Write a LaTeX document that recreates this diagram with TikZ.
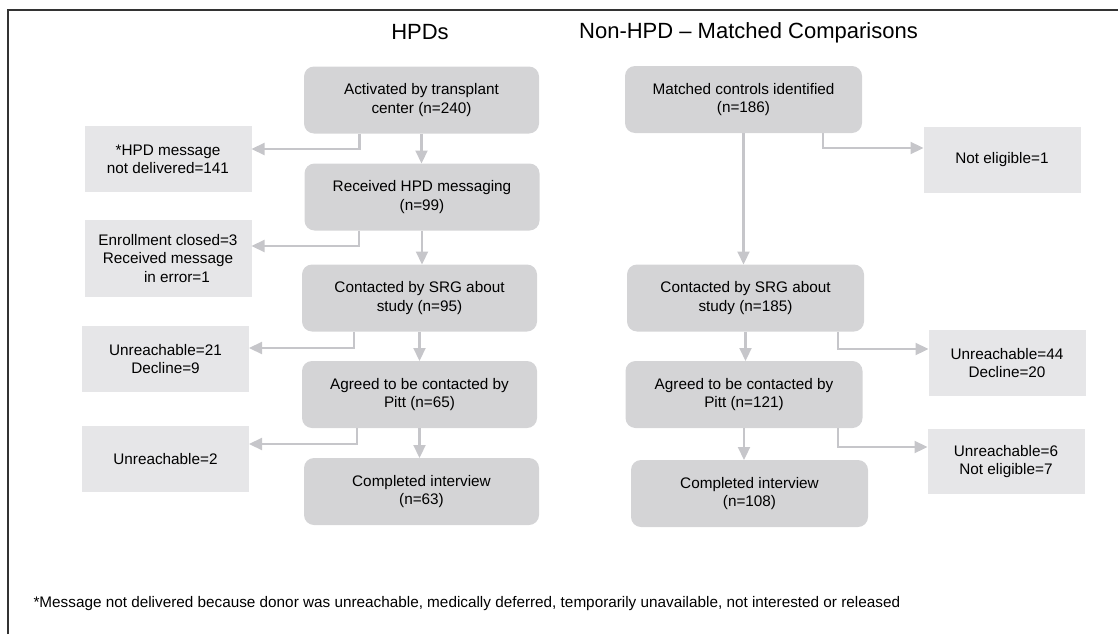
\documentclass[tikz,border=0pt]{standalone}
\usepackage{fontspec}
\setmainfont{Liberation Sans}
\usepackage{xcolor}
\usepackage{tikz}
\usetikzlibrary{arrows.meta}
\usetikzlibrary{shapes}

\definecolor{boxgray}{HTML}{D4D4D6}
\definecolor{sidegray}{HTML}{E6E6E8}
\definecolor{arrowgray}{HTML}{C6C6CA}
\definecolor{framegray}{HTML}{333333}

\tikzset{
    mainbox/.style = {rectangle, rounded corners = 10pt, fill = boxgray, inner sep = 0pt, outer sep = 0pt,
        minimum width = 235pt, minimum height = 67pt, align = center,
        font = \fontsize{15.3}{18.3}\selectfont},
    sidebox/.style = {rectangle, fill = sidegray, inner sep = 0pt, outer sep = 0pt,
        minimum width = 167pt, minimum height = 66pt, align = center,
        font = \fontsize{15.3}{18.3}\selectfont},
    flow/.style = {draw = arrowgray, line width = 2.2pt, -{Triangle[length = 13pt, width = 12pt]}},
    heading/.style = {font = \fontsize{22}{26}\selectfont}
}

\begin{document}
\begin{tikzpicture}[x = 1pt, y = -1pt]
        \useasboundingbox (0, 0) rectangle (1118, 634);
        \draw[framegray, line width = 2pt] (8, 634) -- (8, 10) -- (1118, 10);

        \node[heading] (hpdtitle) at (420, 32) {HPDs};
        \node[heading] (nonhpdtitle) at (748.5, 33) {Non-HPD -- Matched Comparisons};

        % HPD column
        \node[mainbox] (activated) at (421.5, 100) {Activated by transplant\\center (n=240)};
        \node[mainbox] (received) at (422, 197) {Received HPD messaging\\(n=99)};
        \node[mainbox] (contacted) at (419.5, 298) {Contacted by SRG about\\study (n=95)};
        \node[mainbox] (agreed) at (419.5, 394.5) {Agreed to be contacted by\\Pitt (n=65)};
        \node[mainbox] (completed) at (421.5, 491.5) {Completed interview\\(n=63)};

        \node[sidebox] (undelivered) at (168, 159) {*HPD message\\not delivered=141};
        \node[sidebox, minimum height = 77pt] (closed) at (168, 258.5) {Enrollment closed=3\\Received message\\\hspace{18pt}in error=1};
        \node[sidebox] (declined) at (165.5, 359) {Unreachable=21\\Decline=9};
        \node[sidebox] (lost) at (165.5, 459) {Unreachable=2};

        % matched comparison column
        \node[mainbox, minimum width = 237pt] (matched) at (743.5, 99.5) {Matched controls identified\\(n=186)};
        \node[mainbox, minimum width = 237pt] (contactedM) at (745.5, 298) {Contacted by SRG about\\study (n=185)};
        \node[mainbox, minimum width = 237pt] (agreedM) at (744, 394.5) {Agreed to be contacted by\\Pitt (n=121)};
        \node[mainbox, minimum width = 237pt] (completedM) at (749.5, 493.5) {Completed interview\\(n=108)};

        \node[sidebox, minimum width = 157pt] (ineligible) at (1002, 160) {Not eligible=1};
        \node[sidebox, minimum width = 157pt] (declinedM) at (1007, 363) {Unreachable=44\\Decline=20};
        \node[sidebox, minimum width = 157pt, minimum height = 65pt] (lostM) at (1006, 461.5) {Unreachable=6\\Not eligible=7};

        % arrows
        \draw[flow] (activated.south) -- (activated.south |- received.north);
        \draw[flow] (received.south) -- (received.south |- contacted.north);
        \draw[flow] (contacted.south) -- (contacted.south |- agreed.north);
        \draw[flow] (agreed.south) -- (agreed.south |- completed.north);
        \draw[flow] ([xshift = -62pt]activated.south) |- ([yshift = 10pt]undelivered.east);
        \draw[flow] ([xshift = -63pt]received.south) |- ([yshift = 12.5pt]closed.east);
        \draw[flow] ([xshift = -65.5pt]contacted.south) |- ([yshift = 11pt]declined.east);
        \draw[flow] ([xshift = -62.5pt]agreed.south) |- ([yshift = 15pt]lost.east);

        \draw[flow] (matched.south) -- (matched.south |- contactedM.north);
        \draw[flow] (contactedM.south) -- (contactedM.south |- agreedM.north);
        \draw[flow] (agreedM.south) -- (agreedM.south |- completedM.north);
        \draw[flow] ([xshift = 79.5pt]matched.south) |- ([yshift = 12pt]ineligible.west);
        \draw[flow] ([xshift = 92.5pt]contactedM.south) |- ([yshift = 14pt]declinedM.west);
        \draw[flow] ([xshift = 94pt]agreedM.south) |- ([yshift = 14.5pt]lostM.west);

        \node[anchor = west, font = \fontsize{15.3}{18.3}\selectfont] (footnote) at (30, 604)
            {*Message not delivered because donor was unreachable, medically deferred, temporarily unavailable, not interested or released};
    \end{tikzpicture}
\end{document}
